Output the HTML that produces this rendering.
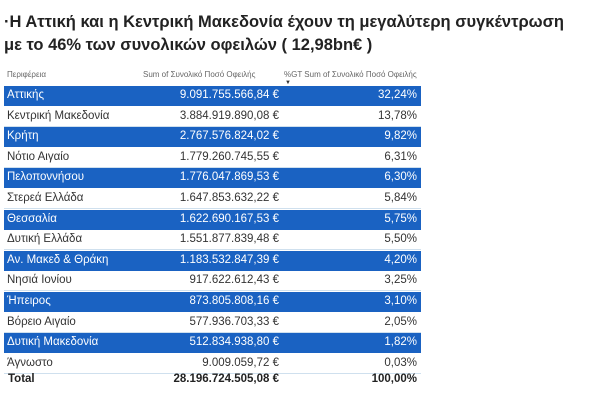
<!DOCTYPE html>
<html><head><meta charset="utf-8"><style>
body{margin:0;width:606px;height:412px;background:#fff;font-family:"Liberation Sans","DejaVu Sans",sans-serif;position:relative;overflow:hidden}
.t{position:absolute;left:4px;font-size:16.5px;font-weight:bold;color:#222;white-space:nowrap}
.h{position:absolute;top:70px;font-size:8px;color:#666}
.r{position:absolute;left:4px;width:417px;height:20px;font-size:11.5px;color:#333}
.r.b{background:#1a62c2;color:#fff}
.r.w{border-bottom:1px solid #cfe0ee;height:19px}
.r span{position:absolute;top:3px}
.a{right:142px}.p{right:4px}.n{left:3px}
</style></head><body>
<div class="t" style="top:13px">·Η Αττική και η Κεντρική Μακεδονία  έχουν τη μεγαλύτερη συγκέντρωση</div>
<div class="t" style="top:36px">με το 46% των συνολικών οφειλών ( 12,98bn€ )</div>
<div class="h" style="left:7px">Περιφέρεια</div>
<div class="h" style="left:143px">Sum of Συνολικό Ποσό Οφειλής</div>
<div class="h" style="left:284px">%GT Sum of Συνολικό Ποσό Οφειλής</div>
<div style="position:absolute;left:285px;top:80px;font-size:6px;color:#333">▼</div>
<div class="r b" style="top:86px"><span class="n">Αττικής</span><span class="a">9.091.755.566,84 €</span><span class="p">32,24%</span></div>
<div class="r w" style="top:106.6px"><span class="n">Κεντρική Μακεδονία</span><span class="a">3.884.919.890,08 €</span><span class="p">13,78%</span></div>
<div class="r b" style="top:127.2px"><span class="n">Κρήτη</span><span class="a">2.767.576.824,02 €</span><span class="p">9,82%</span></div>
<div class="r w" style="top:147.8px"><span class="n">Νότιο Αιγαίο</span><span class="a">1.779.260.745,55 €</span><span class="p">6,31%</span></div>
<div class="r b" style="top:168.4px"><span class="n">Πελοποννήσου</span><span class="a">1.776.047.869,53 €</span><span class="p">6,30%</span></div>
<div class="r w" style="top:189px"><span class="n">Στερεά Ελλάδα</span><span class="a">1.647.853.632,22 €</span><span class="p">5,84%</span></div>
<div class="r b" style="top:209.6px"><span class="n">Θεσσαλία</span><span class="a">1.622.690.167,53 €</span><span class="p">5,75%</span></div>
<div class="r w" style="top:230.2px"><span class="n">Δυτική Ελλάδα</span><span class="a">1.551.877.839,48 €</span><span class="p">5,50%</span></div>
<div class="r b" style="top:250.8px"><span class="n">Αν. Μακεδ &amp; Θράκη</span><span class="a">1.183.532.847,39 €</span><span class="p">4,20%</span></div>
<div class="r w" style="top:271.4px"><span class="n">Νησιά Ιονίου</span><span class="a">917.622.612,43 €</span><span class="p">3,25%</span></div>
<div class="r b" style="top:292px"><span class="n">Ήπειρος</span><span class="a">873.805.808,16 €</span><span class="p">3,10%</span></div>
<div class="r w" style="top:312.6px"><span class="n">Βόρειο Αιγαίο</span><span class="a">577.936.703,33 €</span><span class="p">2,05%</span></div>
<div class="r b" style="top:333.2px"><span class="n">Δυτική Μακεδονία</span><span class="a">512.834.938,80 €</span><span class="p">1,82%</span></div>
<div class="r w" style="top:353.8px"><span class="n">Άγνωστο</span><span class="a">9.009.059,72 €</span><span class="p">0,03%</span></div>
<div class="r" style="top:370px;font-weight:bold;color:#222"><span class="n" style="left:4px">Total</span><span class="a">28.196.724.505,08 €</span><span class="p">100,00%</span></div>
</body></html>
